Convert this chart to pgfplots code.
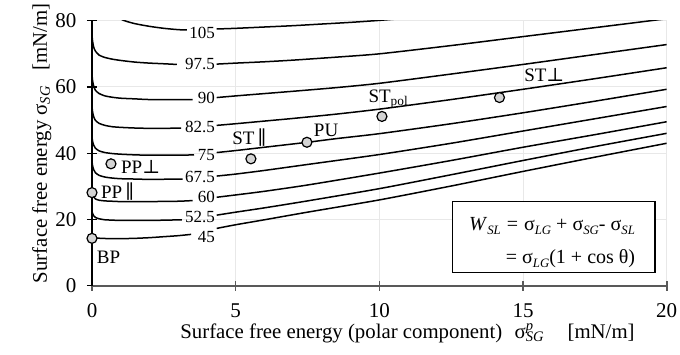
\documentclass[border=0pt]{standalone}
\usepackage{fontspec}
\setmainfont{Liberation Serif}
\newfontfamily\symfont{DejaVu Serif}
\usepackage{pgfplots}
\pgfplotsset{compat=1.18}
\newcommand{\parasym}{{\symfont ∥}}
\newcommand{\perpsym}{{\symfont ⊥}}
% small italic subscript for the box formula
\newcommand{\sub}[1]{\raisebox{-0.45ex}{\fontsize{6.4}{7}\selectfont\textit{#1}}}

\begin{document}
\begin{tikzpicture}
\path[use as bounding box] (-46pt,-34.15pt) rectangle (294pt,142.85pt);
\begin{axis}[
  at={(0pt,0pt)}, anchor=south west,
  scale only axis, width=287.35pt, height=132.5pt,
  xmin=0, xmax=20, ymin=0, ymax=80,
  axis x line*=bottom, axis y line*=left,
  xtick={0,5,10,15,20}, ytick={0,20,40,60,80},
  tick align=center, major tick length=5pt,
  x axis line style={black!65, line width=0.8pt},
  y axis line style={black, line width=0.6pt},
  x tick style={black!65, line width=0.8pt},
  y tick style={black, line width=0.6pt},
  grid=major, grid style={black!9, line width=0.5pt},
  /pgf/number format/assume math mode=true,
  tick label style={font=\fontsize{10.5}{12}\selectfont},
  xticklabel style={yshift=-3pt},
  yticklabel style={xshift=-1.8pt},
  xlabel={Surface free energy (polar component)\hspace{0.6em}σ\rlap{\textsuperscript{\textit{p}}}\textsubscript{\textit{SG}}\hspace{1.1em}[mN/m]},
  ylabel={Surface free energy σ\textsubscript{\textit{SG}}\hspace{0.7em}[mN/m]},
  label style={font=\fontsize{10.4}{12}\selectfont},
  xlabel style={at={(axis description cs:0.549,0)}, anchor=base, yshift=-26.2pt},
  ylabel style={at={(axis description cs:0,0.537)}, anchor=base, yshift=22.5pt},
  unbounded coords=jump,
  every axis plot/.append style={line width=0.75pt},
]

% work of adhesion isolines, W_SL in mN/m
\addplot[black, smooth, tension=0.4, mark=none] coordinates {
 (0.5,84.0) (0.8,81.6) (1.1,80.1) (1.5,79.1) (2,78.3) (2.5,77.7) (3,77.3) (3.3,77.2)
 (3.8,nan)
 (4.34,77.5) (5,77.7) (6,78.1) (7,78.5) (8,79.0) (9,79.5) (10,80.1) (11,80.8)};
\addplot[black, smooth, tension=0.4, mark=none] coordinates {
 (0,75.8) (0.02,73.8) (0.06,72.0) (0.12,70.8) (0.25,69.6) (0.45,68.9) (0.7,68.4)
 (1,68.0) (1.5,67.5) (2,67.2) (2.5,67.0) (2.95,66.8)
 (3.6,nan)
 (4.34,66.9) (5,67.2) (6,67.6) (7,68.1) (8.5,69.0) (10,70.0) (12.5,72.5) (15,75.2)
 (17.5,77.9) (20,80.6)};
\addplot[black, smooth, tension=0.4, mark=none] coordinates {
 (0,63.8) (0.02,61.9) (0.06,60.2) (0.12,59.0) (0.25,58.0) (0.45,57.3) (0.7,56.9)
 (1,56.6) (1.5,56.4) (2,56.2) (3,56.2) (3.5,56.2)
 (3.9,nan)
 (4.34,56.8) (5,57.3) (6,58.0) (7,58.7) (8.5,59.8) (10,61.1) (12.5,63.9) (15,66.8)
 (17.5,69.8) (20,72.8)};
\addplot[black, smooth, tension=0.4, mark=none] coordinates {
 (0,54.1) (0.02,52.5) (0.06,51.0) (0.12,49.9) (0.25,49.0) (0.45,48.4) (0.7,48.0)
 (1,47.8) (1.5,47.6) (2,47.5) (2.5,47.5) (3.1,47.6)
 (3.7,nan)
 (4.34,48.4) (5,48.9) (6,49.7) (7,50.5) (8.5,51.8) (10,53.3) (12.5,56.2) (15,59.3)
 (17.5,62.5) (20,65.8)};
\addplot[black, smooth, tension=0.4, mark=none] coordinates {
 (0,45.0) (0.02,43.6) (0.06,42.4) (0.12,41.5) (0.25,40.7) (0.45,40.2) (0.7,39.9)
 (1,39.7) (1.5,39.5) (2,39.4) (3,39.4) (3.55,39.5)
 (3.9,nan)
 (4.34,40.2) (5,40.8) (6,41.8) (7.5,43.3) (8.5,44.4) (10,45.9) (12.5,48.9) (15,52.2)
 (17.5,55.7) (20,59.3)};
\addplot[black, smooth, tension=0.4, mark=none] coordinates {
 (0,37.5) (0.02,36.2) (0.06,35.0) (0.12,34.1) (0.25,33.3) (0.45,32.8) (0.7,32.5)
 (1,32.3) (1.5,32.2) (2,32.1) (3.15,32.2)
 (3.7,nan)
 (4.34,33.1) (5,33.7) (6,34.8) (7.5,36.6) (10,39.6) (12.5,43.0) (15,46.7)
 (17.5,50.4) (20,54.1)};
\addplot[black, smooth, tension=0.4, mark=none] coordinates {
 (0,28.8) (0.02,27.7) (0.06,26.8) (0.12,26.2) (0.25,25.8) (0.45,25.6) (0.7,25.5)
 (1,25.4) (2,25.4) (3,25.5) (3.5,25.7)
 (3.9,nan)
 (4.34,26.7) (5,27.4) (6,28.5) (7.5,30.4) (10,34.0) (12.5,37.8) (15,41.8)
 (17.5,45.6) (20,49.5)};
\addplot[black, smooth, tension=0.4, mark=none] coordinates {
 (0,22.6) (0.02,21.8) (0.06,21.1) (0.12,20.6) (0.25,20.2) (0.45,19.9) (0.7,19.8)
 (1,19.7) (2,19.7) (3.13,19.9)
 (3.7,nan)
 (4.34,21.3) (5,22.2) (6,23.5) (7.5,25.6) (10,29.3) (12.5,33.5) (15,37.8)
 (17.5,42.0) (20,46.0)};
\addplot[black, smooth, tension=0.4, mark=none] coordinates {
 (0,15.3) (0.03,14.8) (0.1,14.5) (0.3,14.3) (0.7,14.2) (1,14.2) (1.5,14.3) (2,14.5)
 (2.5,14.8) (3,15.1) (3.45,15.5)
 (3.9,nan)
 (4.34,17.3) (5,18.4) (6,19.9) (7.5,22.2) (10,25.9) (12.5,30.1) (15,34.5)
 (17.5,38.8) (20,43.0)};

% isoline values
\begin{scope}[every node/.style={anchor=east, inner sep=0pt, font=\fontsize{8.5}{9}\selectfont}]
\node at (axis cs:4.29,76.3) {105};
\node at (axis cs:4.29,66.9) {97.5};
\node at (axis cs:4.29,56.6) {90};
\node at (axis cs:4.29,47.8) {82.5};
\node at (axis cs:4.29,39.5) {75};
\node at (axis cs:4.29,32.9) {67.5};
\node at (axis cs:4.29,26.9) {60};
\node at (axis cs:4.29,20.8) {52.5};
\node at (axis cs:4.29,14.8) {45};
\end{scope}

% measured substrates
\addplot[only marks, mark=*, mark size=2.5pt,
  mark options={fill=black!17, draw=black, line width=0.6pt}] coordinates {
 (0,14.3) (0,28.1) (0.66,36.8) (5.53,38.3) (7.48,43.3) (10.09,51.1) (14.18,56.8)};

\begin{scope}[every node/.style={anchor=base west, inner sep=0pt, font=\fontsize{9.5}{11}\selectfont}]
\node at (axis cs:0.16,6.8) {BP};
\node at (axis cs:0.30,26.4) {PP\,\parasym};
\node at (axis cs:1.00,33.75) {PP\perpsym};
\node at (axis cs:4.87,42.5) {ST\,\parasym};
\node at (axis cs:7.71,45.0) {PU};
\node at (axis cs:9.61,55.4) {ST\textsubscript{pol}};
\node at (axis cs:15.03,61.6) {ST\perpsym};
\end{scope}

% definition of the work of adhesion
\draw[black, line width=0.6pt, fill=white] (axis cs:12.55,4.05) rectangle (axis cs:19.59,25.38);
\node[anchor=base west, inner sep=0pt, font=\fontsize{10}{12}\selectfont] at (axis cs:13.11,16.8)
  {\textit{W}\sub{SL}\hspace{0.3em}=\hspace{0.3em}σ\sub{LG}\hspace{0.25em}+\hspace{0.25em}σ\sub{SG}-\hspace{0.25em}σ\sub{SL}};
\node[anchor=base west, inner sep=0pt, font=\fontsize{10}{12}\selectfont] at (axis cs:14.39,6.8)
  {= σ\sub{LG}(1 + cos θ)};
\end{axis}
\end{tikzpicture}
\end{document}
